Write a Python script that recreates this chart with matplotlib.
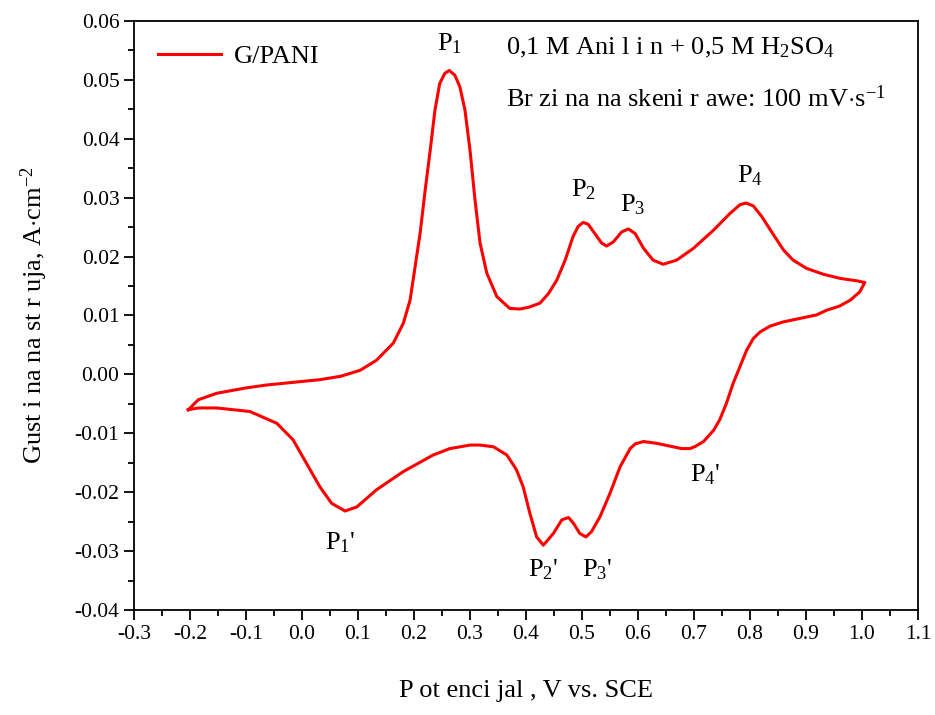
import matplotlib.pyplot as plt
from matplotlib.ticker import MultipleLocator

plt.rcParams['font.family'] = ['Liberation Serif', 'DejaVu Serif']
plt.rcParams['mathtext.fontset'] = 'custom'
plt.rcParams['mathtext.rm'] = 'Liberation Serif'
plt.rcParams['mathtext.it'] = 'Liberation Serif:italic'

# forward (anodic) scan
v_fwd = [-0.203, -0.185, -0.152, -0.1, -0.063, 0.0, 0.032, 0.07, 0.104, 0.133,
         0.163, 0.181, 0.193, 0.202, 0.211, 0.22, 0.229, 0.2375, 0.246, 0.255,
         0.263, 0.273, 0.282, 0.291, 0.3, 0.309, 0.318, 0.33, 0.348, 0.371, 0.389,
         0.405, 0.425, 0.44, 0.455, 0.47, 0.484, 0.493, 0.502, 0.511, 0.523, 0.535,
         0.544, 0.556, 0.571, 0.583, 0.595, 0.61, 0.627, 0.645, 0.669, 0.699,
         0.735, 0.764, 0.782, 0.793, 0.806, 0.821, 0.842, 0.86, 0.877, 0.901,
         0.931, 0.961, 0.99, 1.005]
i_fwd = [-0.0060, -0.0043, -0.0032, -0.0023, -0.0018, -0.0012, -0.0009, -0.0003,
         0.0007, 0.0024, 0.0053, 0.0087, 0.0126, 0.0183, 0.0240, 0.0313, 0.0381,
         0.0449, 0.0494, 0.0511, 0.0516, 0.0508, 0.0488, 0.0449, 0.0381, 0.0296,
         0.0223, 0.0172, 0.0132, 0.0112, 0.0111, 0.0114, 0.0121, 0.0137, 0.0160,
         0.0194, 0.0234, 0.0251, 0.0258, 0.0255, 0.0239, 0.0223, 0.0218, 0.0225,
         0.0242, 0.0247, 0.0239, 0.0214, 0.0194, 0.0187, 0.0194, 0.0214, 0.0245,
         0.0273, 0.0288, 0.0291, 0.0286, 0.0268, 0.0237, 0.0211, 0.0194, 0.0180,
         0.0170, 0.0163, 0.0159, 0.0156]

# reverse (cathodic) scan
v_rev = [1.005, 0.996, 0.979, 0.96, 0.937, 0.919, 0.889, 0.859, 0.836, 0.818,
         0.806, 0.794, 0.782, 0.77, 0.758, 0.746, 0.735, 0.717, 0.703, 0.693,
         0.678, 0.663, 0.633, 0.61, 0.595, 0.586, 0.568, 0.55, 0.532, 0.517, 0.507,
         0.496, 0.485, 0.476, 0.464, 0.449, 0.431, 0.419, 0.407, 0.395, 0.383,
         0.366, 0.342, 0.318, 0.3, 0.264, 0.234, 0.181, 0.133, 0.098, 0.077,
         0.053, 0.032, 0.008, -0.016, -0.045, -0.093, -0.152, -0.185, -0.203]
i_rev = [0.0156, 0.0140, 0.0126, 0.0116, 0.0109, 0.0101, 0.0095, 0.0089, 0.0082,
         0.0072, 0.0061, 0.0041, 0.0013, -0.0015, -0.0049, -0.0077, -0.0095,
         -0.0114, -0.0122, -0.0126, -0.0126, -0.0123, -0.0117, -0.0114, -0.0118,
         -0.0126, -0.0157, -0.0202, -0.0242, -0.0267, -0.0276, -0.0270, -0.0253,
         -0.0243, -0.0247, -0.0270, -0.0290, -0.0276, -0.0236, -0.0191, -0.0162,
         -0.0137, -0.0123, -0.0120, -0.0120, -0.0126, -0.0137, -0.0165, -0.0196,
         -0.0225, -0.0232, -0.0219, -0.0191, -0.0151, -0.0111, -0.0083, -0.0063,
         -0.0057, -0.0057, -0.0060]

peak_labels = ["P$_1$", "P$_2$", "P$_3$", "P$_4$", "P$_1$'", "P$_2$'", "P$_3$'", "P$_4$'"]
peak_x = [0.264, 0.502, 0.591, 0.80, 0.068, 0.43, 0.527, 0.72]
peak_y = [0.0562, 0.0313, 0.0288, 0.0338, -0.0286, -0.0332, -0.0332, -0.0170]

fig = plt.figure(figsize=(9.35, 7.15), dpi=100)
ax = fig.add_axes([0.1433, 0.1469, 0.8385, 0.8237])

ax.plot(v_fwd + v_rev, i_fwd + i_rev, color="red", linewidth=2.2,
        solid_joinstyle="round", label="G/PANI")

for lab, x, y in zip(peak_labels, peak_x, peak_y):
    ax.text(x, y, lab, fontsize=19, ha="center", va="center")

ax.text(0.475, 0.955, "0,1 M Ani l i n + 0,5 M H$_2$SO$_4$", transform=ax.transAxes,
        fontsize=19, va="center")
ax.text(0.475, 0.868, "Br zi na na skeni r awe: 100 mV$\\cdot$s$^{-1}$",
        transform=ax.transAxes, fontsize=19, va="center")

ax.set_xlim(-0.3, 1.1)
ax.set_ylim(-0.04, 0.06)
ax.xaxis.set_major_locator(MultipleLocator(0.1))
ax.xaxis.set_minor_locator(MultipleLocator(0.05))
ax.yaxis.set_major_locator(MultipleLocator(0.01))
ax.yaxis.set_minor_locator(MultipleLocator(0.005))
ax.xaxis.set_major_formatter(lambda v, p: f"{v:.1f}")
ax.yaxis.set_major_formatter(lambda v, p: f"{v:.2f}")
ax.tick_params(which="major", direction="out", length=7, width=1.3, labelsize=15.5)
ax.tick_params(which="minor", direction="out", length=4, width=1.3)
for s in ax.spines.values():
    s.set_linewidth(1.3)

ax.set_xlabel("P ot enci jal , V vs. SCE", fontsize=19, labelpad=26)
ax.set_ylabel("Gust i na na st r uja, A$\\cdot$cm$^{-2}$", fontsize=19, labelpad=18)

ax.legend(loc="upper left", frameon=False, fontsize=19, handlelength=2.4,
          handletextpad=0.5, bbox_to_anchor=(0.0, 1.0), borderaxespad=0.5)

fig.savefig("out.png", dpi=100)
